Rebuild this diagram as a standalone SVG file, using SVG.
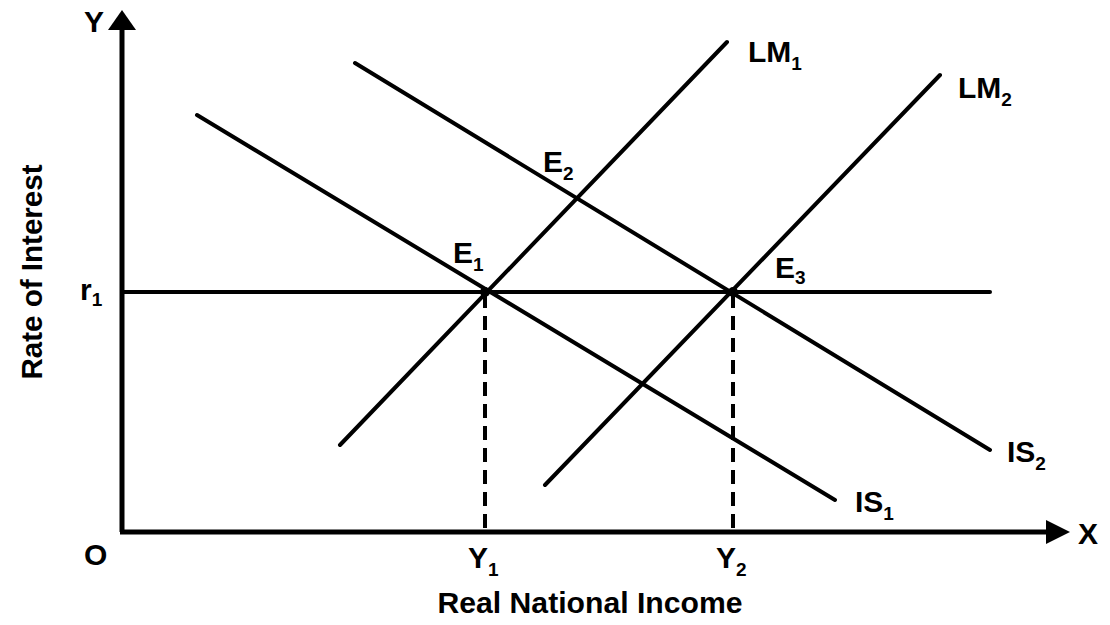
<svg xmlns="http://www.w3.org/2000/svg" width="1110" height="625" viewBox="0 0 1110 625">
<style>
.ln{stroke:#000;stroke-width:4;fill:none;stroke-linecap:round}
.ax{stroke:#000;stroke-width:5;fill:none}
.dash{stroke:#000;stroke-width:4;stroke-dasharray:14 8;fill:none}
text{font-family:"Liberation Sans",Arial,sans-serif;font-weight:bold;fill:#000}
.lb{font-size:30px}
.sb{font-size:19px}
</style>
<rect width="1110" height="625" fill="#fff"/>
<g id="connectors">
<path class="ax" d="M122,532 V16"/>
<path d="M108,30 L122,10 L136,30 Z" fill="#000"/>
<path class="ax" d="M120,532 H1050"/>
<path d="M1046,520 L1070,532 L1046,544 Z" fill="#000"/>
<path class="ln" d="M122,292 H990"/>
<path class="dash" d="M485,294 V530"/>
<path class="dash" d="M733,294 V530"/>
</g>
<g id="LM1"><path class="ln" d="M340,445 L727,42"/><text class="lb" x="748" y="62">LM<tspan class="sb" dy="8">1</tspan></text></g>
<g id="LM2"><path class="ln" d="M545,485 L940,75"/><text class="lb" x="958" y="98">LM<tspan class="sb" dy="8">2</tspan></text></g>
<g id="IS1"><path class="ln" d="M197,115 L835,500"/><text class="lb" x="855" y="512">IS<tspan class="sb" dy="8">1</tspan></text></g>
<g id="IS2"><path class="ln" d="M355,63 L990,450"/><text class="lb" x="1007" y="462">IS<tspan class="sb" dy="8">2</tspan></text></g>
<g id="E1"><circle cx="485" cy="292" r="5"/><text class="lb" x="453" y="263">E<tspan class="sb" dy="8">1</tspan></text></g>
<g id="E2"><text class="lb" x="543" y="172">E<tspan class="sb" dy="8">2</tspan></text></g>
<g id="E3"><circle cx="733" cy="292" r="5"/><text class="lb" x="775" y="278">E<tspan class="sb" dy="6">3</tspan></text></g>
<g id="labels">
<text class="lb" x="84" y="32">Y</text>
<text class="lb" x="1078" y="544">X</text>
<text class="lb" x="80" y="300">r<tspan class="sb" dy="6">1</tspan></text>
<text class="lb" x="84" y="565">O</text>
<text class="lb" x="468" y="568">Y<tspan class="sb" dy="8">1</tspan></text>
<text class="lb" x="716" y="568">Y<tspan class="sb" dy="8">2</tspan></text>
<text class="lb" x="590" y="613" text-anchor="middle" font-size="27" textLength="305" lengthAdjust="spacingAndGlyphs">Real National Income</text>
<text class="lb" transform="translate(42,272) rotate(-90)" text-anchor="middle" font-size="27" textLength="215" lengthAdjust="spacingAndGlyphs">Rate of Interest</text>
</g>
</svg>
